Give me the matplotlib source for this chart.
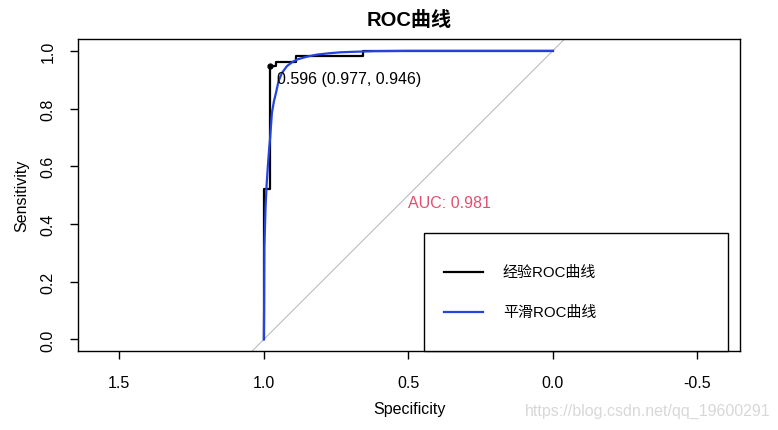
import matplotlib
matplotlib.use("Agg")
import matplotlib.pyplot as plt
from matplotlib.patches import Rectangle
from matplotlib.lines import Line2D

plt.rcParams['font.family'] = ['Liberation Sans', 'Noto Sans CJK SC', 'DejaVu Sans']

# Empirical ROC curve vertices (specificity, sensitivity)
emp_spec = [1.0, 1.0, 0.977, 0.977, 0.957, 0.957, 0.890, 0.890, 0.657, 0.657, 0.0]
emp_sens = [0.0, 0.52, 0.52, 0.946, 0.946, 0.963, 0.963, 0.981, 0.981, 1.0, 1.0]

# Smoothed ROC curve (specificity, sensitivity)
smooth_spec = [1.0, 0.999, 0.998, 0.994, 0.990, 0.986, 0.982, 0.978, 0.972, 0.965,
               0.958, 0.949, 0.937, 0.920, 0.900, 0.885, 0.850, 0.816, 0.780, 0.735,
               0.680, 0.620, 0.500, 0.300, 0.0]
smooth_sens = [0.0, 0.10, 0.32, 0.46, 0.54, 0.60, 0.655, 0.70, 0.785, 0.825,
               0.854, 0.895, 0.924, 0.947, 0.962, 0.970, 0.980, 0.987, 0.991, 0.995,
               0.997, 0.999, 1.0, 1.0, 1.0]

best_thr = 0.596
best_spec = 0.977
best_sens = 0.946
auc = 0.981

x_ticks = [1.5, 1.0, 0.5, 0.0, -0.5]
x_ticklabels = ["1.5", "1.0", "0.5", "0.0", "-0.5"]
y_ticks = [0.0, 0.2, 0.4, 0.6, 0.8, 1.0]
y_ticklabels = ["0.0", "0.2", "0.4", "0.6", "0.8", "1.0"]

legend_labels = ["经验ROC曲线", "平滑ROC曲线"]
colors = ["black", "#2443e0"]

fig = plt.figure(figsize=(7.78, 4.31), dpi=100)
ax = fig.add_axes([78.3 / 778, 1 - 352 / 431, (740 - 78.3) / 778, (352 - 40.3) / 431])

ax.set_xlim(1.642, -0.648)
ax.set_ylim(-0.04, 1.04)

# diagonal
ax.axline((1, 0), (0, 1), color="#b4b4b4", lw=0.7, zorder=1)

ax.plot(emp_spec, emp_sens, color=colors[0], lw=1.6, zorder=3)
ax.plot(smooth_spec, smooth_sens, color=colors[1], lw=1.6, zorder=4)

ax.plot([best_spec], [best_sens], 'o', color='black', ms=3.5, zorder=5)
ax.annotate(f"{best_thr:.3f} ({best_spec:.3f}, {best_sens:.3f})",
            xy=(best_spec, best_sens), xytext=(4.8, -8.4), textcoords='offset points',
            ha='left', va='center', fontsize=11.5, color='black', zorder=6)

ax.text(0.5, 0.5, f"AUC: {auc:.3f}", ha='left', va='top', fontsize=11.5,
        color="#e0506e", zorder=6)

ax.set_xticks(x_ticks)
ax.set_xticklabels(x_ticklabels)
ax.set_yticks(y_ticks)
ax.set_yticklabels(y_ticklabels, rotation=90, va='center')
ax.tick_params(axis='both', length=5.5, width=1, labelsize=11.5, color='black')
ax.tick_params(axis='x', pad=12)
ax.tick_params(axis='y', pad=11)
for s in ax.spines.values():
    s.set_linewidth(1.0)
    s.set_color('black')

fig.text(409 / 778, 1 - 410 / 431, "Specificity", ha='center', va='center', fontsize=11.5)
fig.text(22 / 778, 1 - 196 / 431, "Sensitivity", ha='center', va='center',
         rotation=90, fontsize=11.5)
fig.text(409 / 778, 1 - 21 / 431, "ROC曲线", ha='center', va='center',
         fontsize=14.5, fontweight='bold')

# legend box (axes coordinates)
ax_w = 740 - 78.3
ax_h = 352 - 40.3
def ax_x(px):
    return (px - 78.3) / ax_w
def ax_y(py):
    return (352 - py) / ax_h

ax.add_patch(Rectangle((ax_x(424), ax_y(352)), ax_x(728) - ax_x(424), ax_y(234) - ax_y(352),
                       transform=ax.transAxes, facecolor='white', edgecolor='black',
                       lw=1.0, zorder=7, clip_on=False))
for i, (lab, c) in enumerate(zip(legend_labels, colors)):
    yy = ax_y(273 + 40 * i)
    ax.add_line(Line2D([ax_x(444), ax_x(483)], [yy, yy], transform=ax.transAxes,
                       color=c, lw=1.6, zorder=8))
    ax.text(ax_x(503), yy, lab, transform=ax.transAxes, ha='left', va='center',
            fontsize=10.8, zorder=8)

fig.text(770 / 778, 1 - 411 / 431, "https://blog.csdn.net/qq_19600291", ha='right',
         va='center', fontsize=11.5, color="#d8d8d8")

fig.savefig("out.png", dpi=100)
